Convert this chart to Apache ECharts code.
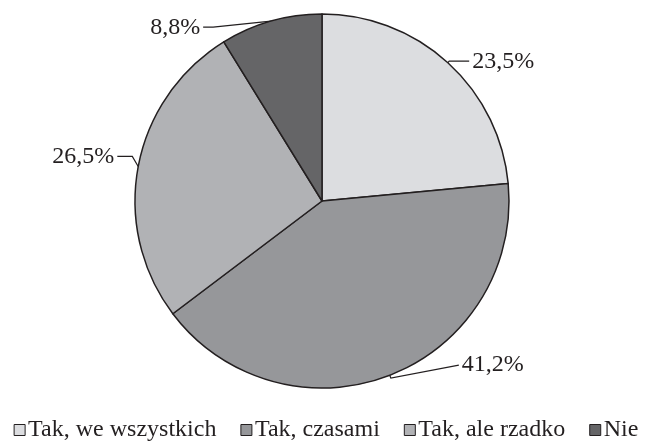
<!DOCTYPE html>
<html>
<head>
<meta charset="utf-8">
<script src="https://cdn.jsdelivr.net/npm/echarts@6/dist/echarts.min.js"></script>
<style>html,body{margin:0;padding:0;background:#fff;}#c{width:652px;height:441px;}</style>
</head>
<body>
<div id="c"></div>
<script>
const categories = ['Tak, we wszystkich', 'Tak, czasami', 'Tak, ale rzadko', 'Nie'];
const values = [23.5, 41.2, 26.5, 8.8];
const labels = ['23,5%', '41,2%', '26,5%', '8,8%'];
const colors = ['#dcdde0', '#96979a', '#b1b2b5', '#656567'];
const lineLen = [2, 3, 6, 3];
const lineLen2 = [20, 68, 15, 67];
const labelShift = [0, -13, -9, 9];

const chart = echarts.init(document.getElementById('c'));
const font = 'Liberation Serif';
chart.setOption({
  animation: false,
  color: colors,
  legend: {
    data: categories,
    left: 'center',
    top: 413,
    itemWidth: 11,
    itemHeight: 11,
    itemGap: 24,
    icon: 'rect',
    itemStyle: { borderColor: '#231f20', borderWidth: 1 },
    textStyle: { fontFamily: font, fontSize: 24, color: '#231f20', padding: [0, 0, 0, -2] }
  },
  series: [{
    type: 'pie',
    center: [322, 201],
    radius: 187,
    startAngle: 90,
    clockwise: true,
    avoidLabelOverlap: false,
    itemStyle: { borderColor: '#231f20', borderWidth: 1.5 },
    emphasis: { disabled: true },
    label: {
      show: true,
      fontFamily: font,
      fontSize: 24,
      color: '#231f20',
      formatter: p => labels[p.dataIndex],
      distanceToLabelLine: 3
    },
    labelLine: { show: true, lineStyle: { color: '#231f20', width: 1.2 } },
    labelLayout: function (p) {
      const i = p.dataIndex;
      const d = labelShift[i];
      const pts = p.labelLinePoints;
      if (!pts || !d) return {};
      let np;
      if (i === 2) {
        np = [pts[0], [pts[1][0], pts[1][1] + d], [pts[2][0], pts[2][1] + d]];
      } else if (i === 3) {
        np = [pts[0], [pts[2][0] + 10, pts[2][1] + d], [pts[2][0], pts[2][1] + d]];
      } else {
        np = [pts[0], pts[1], [pts[2][0], pts[2][1] + d]];
      }
      return { dy: d, labelLinePoints: np };
    },
    data: categories.map((c, i) => ({
      name: c,
      value: values[i],
      labelLine: { length: lineLen[i], length2: lineLen2[i] }
    }))
  }]
});
</script>
</body>
</html>
